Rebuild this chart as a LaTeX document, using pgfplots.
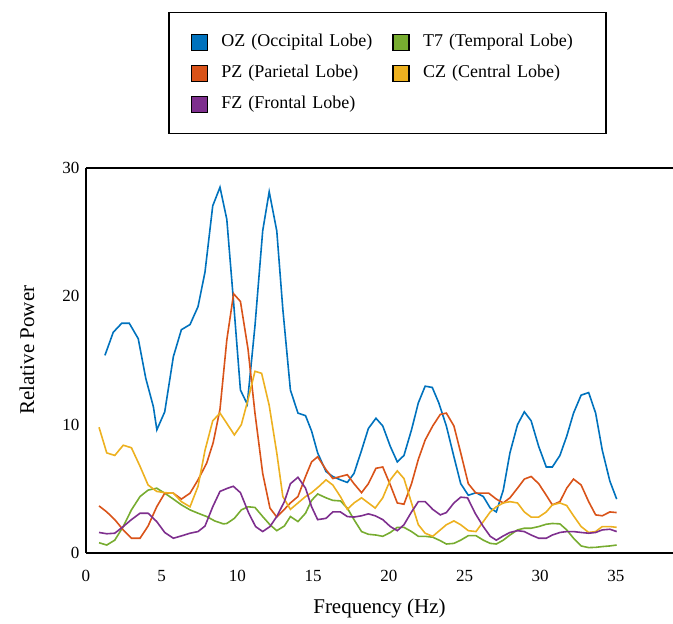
\documentclass[border=0pt]{standalone}
\usepackage{fontspec}
\setmainfont{Liberation Serif}
\usepackage{pgfplots}
\pgfplotsset{compat=1.18}
\definecolor{cOZ}{HTML}{0072BD}
\definecolor{cPZ}{HTML}{D95319}
\definecolor{cFZ}{HTML}{7E2F8E}
\definecolor{cT}{HTML}{77AC30}
\definecolor{cCZ}{HTML}{EDB120}
\newcommand{\legsq}[1]{\draw[fill=#1,draw=black,line width=1.2pt] (0pt,-8pt) rectangle (16pt,8pt); \path[draw=none,fill=none] (16pt,0pt) -- (27pt,0pt);}
\begin{document}
\begin{tikzpicture}[x=1pt,y=1pt]
\useasboundingbox (0,0) rectangle (673,624);
\begin{axis}[
  at={(86pt,71pt)}, anchor=south west,
  scale only axis, width=587pt, height=385pt,
  xmin=0, xmax=38.77, ymin=0, ymax=30,
  axis x line=box, axis y line=left,
  axis line style={-, line width=2.4pt, black},
  xtick={0,5,...,35}, ytick={0,10,20,30},
  major tick length=0pt,
  /pgf/number format/assume math mode=true,
  tick label style={font=\fontsize{17}{20}\selectfont},
  xticklabel style={yshift=-14pt},
  yticklabel style={xshift=-3pt},
  xlabel={Frequency (Hz)}, ylabel={Relative Power},
  label style={font=\fontsize{21}{25}\selectfont},
  x label style={at={(axis description cs:0.5,-0.143)}, anchor=center},
  y label style={at={(axis description cs:-0.1005,0.527)}, anchor=center, rotate=0},
  legend columns=2,
  legend cell align=left,
  legend style={at={(axis description cs:0.5136,1.405)}, anchor=north,
    draw=black, line width=1.3pt, inner xsep=22pt, inner ysep=18pt,
    font=\fontsize{18}{21}\selectfont, row sep=8pt,
    nodes={text width=158pt, inner xsep=3pt, inner ysep=3pt, text height=13pt, text depth=4pt},
    /tikz/every even column/.append style={column sep=10pt}},
  every axis plot/.append style={line width=1.6pt, mark=none},
]
\addplot[cOZ, legend image code/.code={\legsq{cOZ}}] coordinates {(1.25,15.4)(1.8,17.2)(2.36,17.9)(2.86,17.9)(3.45,16.7)(3.95,13.6)(4.45,11.4)(4.68,9.6)(5.2,11.0)(5.77,15.3)(6.3,17.4)(6.87,17.8)(7.4,19.2)(7.86,21.9)(8.37,27.05)(8.85,28.5)(9.3,26.0)(9.75,19.5)(10.2,12.7)(10.65,11.6)(11.16,17.7)(11.67,25.1)(12.1,28.15)(12.6,25.1)(13.0,19.0)(13.5,12.7)(14.0,10.9)(14.5,10.7)(14.9,9.5)(15.3,7.8)(15.85,6.35)(16.3,5.96)(16.8,5.7)(17.26,5.5)(17.7,6.2)(18.2,8.0)(18.65,9.7)(19.15,10.5)(19.6,9.9)(20.1,8.3)(20.56,7.1)(21.0,7.6)(21.5,9.6)(21.95,11.7)(22.4,13.0)(22.87,12.9)(23.3,11.7)(23.8,9.9)(24.3,7.5)(24.75,5.4)(25.25,4.5)(25.76,4.7)(26.24,4.4)(26.7,3.5)(27.1,3.2)(27.56,4.9)(28.0,7.8)(28.5,10.0)(28.95,11.0)(29.4,10.3)(29.9,8.3)(30.4,6.7)(30.8,6.7)(31.3,7.6)(31.75,9.1)(32.2,10.9)(32.7,12.3)(33.2,12.5)(33.66,10.9)(34.1,8.0)(34.6,5.6)(35.05,4.2)};
\addlegendentry{OZ (Occipital Lobe)}
\addplot[cT, legend image code/.code={\legsq{cT}}] coordinates {(0.86,0.8)(1.37,0.62)(1.9,1.0)(2.46,2.06)(3.0,3.36)(3.57,4.4)(4.1,4.9)(4.67,5.05)(5.2,4.66)(5.77,4.2)(6.3,3.75)(6.87,3.36)(7.4,3.1)(7.97,2.84)(8.5,2.5)(9.07,2.27)(9.3,2.3)(9.8,2.7)(10.26,3.36)(10.7,3.6)(11.16,3.55)(11.67,2.84)(12.15,2.2)(12.6,1.74)(13.1,2.1)(13.5,2.84)(14.0,2.45)(14.5,3.1)(14.9,4.1)(15.3,4.6)(15.85,4.3)(16.3,4.1)(16.8,4.06)(17.26,3.5)(17.7,2.6)(18.2,1.67)(18.65,1.46)(19.15,1.4)(19.6,1.3)(20.1,1.6)(20.56,2.0)(21.0,2.0)(21.5,1.67)(21.95,1.3)(22.4,1.3)(22.9,1.23)(23.4,0.96)(23.8,0.7)(24.3,0.75)(24.75,1.0)(25.25,1.35)(25.76,1.35)(26.24,1.0)(26.7,0.75)(27.1,0.7)(27.56,1.0)(28.0,1.4)(28.5,1.8)(28.95,1.93)(29.4,1.93)(29.9,2.06)(30.4,2.24)(30.8,2.3)(31.3,2.27)(31.75,1.8)(32.2,1.15)(32.7,0.55)(33.2,0.42)(33.66,0.44)(34.1,0.5)(34.6,0.55)(35.05,0.62)};
\addlegendentry{T7 (Temporal Lobe)}
\addplot[cPZ, legend image code/.code={\legsq{cPZ}}] coordinates {(0.86,3.67)(1.37,3.2)(1.9,2.6)(2.46,1.8)(3.0,1.15)(3.57,1.15)(4.1,2.1)(4.67,3.6)(5.2,4.66)(5.77,4.66)(6.3,4.2)(6.87,4.66)(7.4,5.7)(7.97,7.0)(8.4,8.6)(8.85,11.2)(9.3,16.6)(9.75,20.2)(10.2,19.6)(10.7,15.9)(11.16,10.9)(11.67,6.2)(12.15,3.5)(12.6,2.8)(13.1,3.4)(13.5,3.9)(14.0,4.4)(14.5,5.96)(14.9,7.1)(15.3,7.5)(15.85,6.5)(16.3,5.8)(16.8,5.96)(17.26,6.1)(17.7,5.4)(18.2,4.7)(18.65,5.4)(19.15,6.6)(19.6,6.7)(20.1,5.3)(20.56,3.9)(21.0,3.8)(21.5,5.4)(21.95,7.3)(22.4,8.8)(22.9,9.9)(23.4,10.8)(23.8,10.9)(24.3,9.9)(24.75,7.8)(25.25,5.4)(25.76,4.66)(26.24,4.66)(26.6,4.66)(27.1,4.2)(27.56,3.9)(28.0,4.3)(28.5,5.05)(28.95,5.76)(29.4,5.96)(29.9,5.4)(30.4,4.5)(30.8,3.75)(31.3,4.0)(31.75,5.05)(32.2,5.76)(32.7,5.3)(33.2,4.0)(33.66,2.97)(34.1,2.9)(34.6,3.2)(35.05,3.15)};
\addlegendentry{PZ (Parietal Lobe)}
\addplot[cCZ, legend image code/.code={\legsq{cCZ}}] coordinates {(0.86,9.8)(1.37,7.8)(1.9,7.6)(2.46,8.4)(3.0,8.2)(3.57,6.75)(4.1,5.3)(4.67,4.8)(5.2,4.7)(5.77,4.66)(6.3,4.0)(6.87,3.6)(7.4,5.2)(7.86,8.0)(8.37,10.3)(8.85,10.9)(9.3,10.1)(9.8,9.2)(10.26,10.0)(10.7,11.95)(11.16,14.16)(11.6,14.0)(12.1,11.5)(12.6,7.8)(13.0,4.4)(13.5,3.4)(14.0,3.9)(14.5,4.4)(14.9,4.7)(15.4,5.2)(15.85,5.7)(16.3,5.3)(16.8,4.4)(17.26,3.4)(17.7,3.9)(18.2,4.3)(18.65,3.9)(19.1,3.5)(19.6,4.3)(20.1,5.7)(20.56,6.4)(21.0,5.8)(21.5,3.9)(21.95,2.2)(22.4,1.54)(22.9,1.3)(23.4,1.8)(23.8,2.2)(24.3,2.5)(24.75,2.2)(25.25,1.74)(25.76,1.67)(26.24,2.45)(26.7,3.2)(27.1,3.6)(27.56,3.9)(28.0,4.0)(28.5,3.9)(28.95,3.2)(29.4,2.8)(29.9,2.8)(30.4,3.2)(30.8,3.75)(31.3,3.9)(31.75,3.7)(32.2,2.9)(32.7,2.06)(33.2,1.6)(33.66,1.67)(34.1,2.06)(34.6,2.06)(35.05,2.0)};
\addlegendentry{CZ (Central Lobe)}
\addplot[cFZ, legend image code/.code={\legsq{cFZ}}] coordinates {(0.86,1.6)(1.37,1.5)(1.9,1.54)(2.46,2.06)(3.0,2.6)(3.57,3.1)(4.1,3.1)(4.67,2.45)(5.2,1.6)(5.77,1.15)(6.3,1.33)(6.87,1.54)(7.4,1.67)(7.86,2.1)(8.37,3.6)(8.85,4.8)(9.36,5.05)(9.73,5.2)(10.2,4.7)(10.75,3.1)(11.2,2.06)(11.67,1.67)(12.15,2.06)(12.6,2.84)(13.1,4.0)(13.5,5.4)(14.0,5.9)(14.5,5.05)(14.9,3.6)(15.3,2.6)(15.85,2.7)(16.3,3.2)(16.8,3.2)(17.26,2.84)(17.7,2.8)(18.2,2.9)(18.65,3.05)(19.1,2.9)(19.6,2.6)(20.1,2.06)(20.56,1.74)(21.0,2.2)(21.5,3.2)(21.95,4.0)(22.4,4.0)(22.9,3.4)(23.4,2.97)(23.8,3.15)(24.3,3.9)(24.75,4.35)(25.2,4.3)(25.7,3.1)(26.24,2.06)(26.7,1.3)(27.1,1.0)(27.56,1.33)(28.0,1.6)(28.5,1.74)(28.95,1.67)(29.4,1.4)(29.9,1.15)(30.4,1.15)(30.8,1.4)(31.3,1.6)(31.75,1.67)(32.2,1.67)(32.7,1.6)(33.2,1.54)(33.66,1.6)(34.1,1.8)(34.6,1.85)(35.05,1.67)};
\addlegendentry{FZ (Frontal Lobe)}
\end{axis}
\end{tikzpicture}
\end{document}
